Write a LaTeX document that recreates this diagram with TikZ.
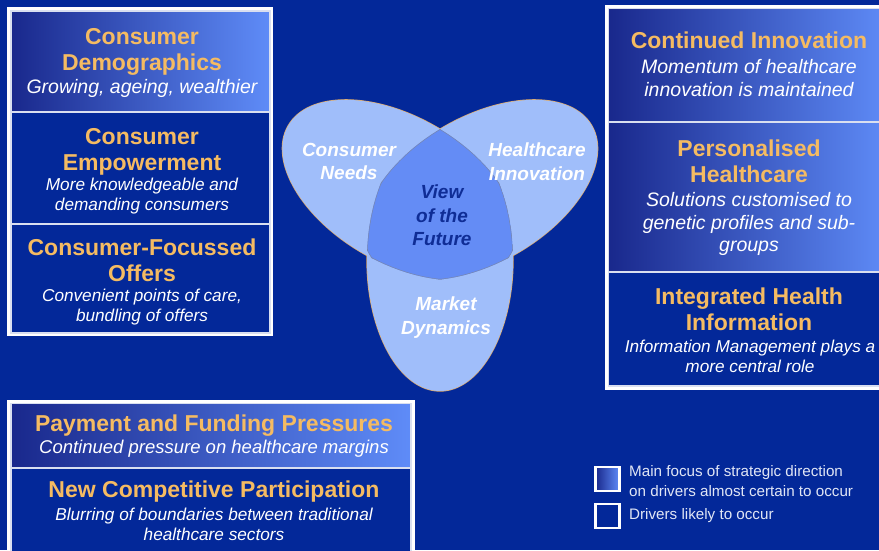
\documentclass[tikz,border=0pt]{standalone}
\usepackage{fontspec}
\setmainfont{Liberation Sans}
\definecolor{bg}{RGB}{3,40,153}
\definecolor{tOrange}{RGB}{245,187,98}
\definecolor{gL}{RGB}{25,40,140}
\definecolor{gR}{RGB}{95,140,248}
\definecolor{ellFill}{RGB}{160,190,250}
\definecolor{ellCore}{RGB}{100,140,245}
\definecolor{ellLine}{RGB}{225,170,100}
\definecolor{coreLine}{RGB}{120,135,175}
\definecolor{coreText}{RGB}{15,45,150}
\definecolor{legText}{RGB}{225,230,245}
\begin{document}
\begin{tikzpicture}[x=1pt,y=-1pt,
  ttl/.style={font=\fontsize{23}{25.8}\selectfont\bfseries, text=tOrange, align=center, inner sep=0pt, anchor=north},
  subL/.style={font=\fontsize{19.5}{22.8}\selectfont\itshape, text=white, align=center, inner sep=0pt, anchor=north},
  subM/.style={font=\fontsize{18.5}{22}\selectfont\itshape, text=white, align=center, inner sep=0pt, anchor=north},
  subS/.style={font=\fontsize{17.2}{20.3}\selectfont\itshape, text=white, align=center, inner sep=0pt, anchor=north},
  frame/.style={draw=white, line width=3pt, inner sep=0pt, rectangle},
  cell/.style={draw=white!85!bg, line width=1.2pt, fill=bg, inner sep=0pt, rectangle},
  gradcell/.style={draw=white!85!bg, line width=1.2pt, inner sep=0pt, rectangle, left color=gL, right color=gR},
  venn/.style={font=\fontsize{19}{23.5}\selectfont\bfseries\itshape, text=white, align=center, inner sep=0pt, anchor=north},
  legbox/.style={draw=white, line width=2.2pt, minimum width=24pt, minimum height=24pt, inner sep=0pt, rectangle},
  legtxt/.style={font=\fontsize{15.2}{20.5}\selectfont, text=legText, align=left, inner sep=0pt, anchor=west},
  petal/.style={fill=ellFill, draw=ellLine, line width=1.3pt},
  coreedge/.style={draw=coreLine, line width=1pt}
]
\clip (0,0) rectangle (879,550);
\fill[bg] (0,0) rectangle (879,550);

% ---------- left column ----------
\node[frame, minimum width=262.8pt, minimum height=325.8pt] (lframe) at (140.1,171.6) {};
\node[gradcell, minimum width=259pt, minimum height=101pt] (lb1) at (140.5,61.5) {};
\node[cell, minimum width=259pt, minimum height=112pt] (lb2) at (140.5,168) {};
\node[cell, minimum width=259pt, minimum height=109pt] (lb3) at (140.5,278.5) {};
\node[ttl] (lt1) at (142,28) {Consumer\\Demographics};
\node[subL] (ls1) at (142,79) {Growing, ageing, wealthier};
\node[ttl] (lt2) at (142,128) {Consumer\\Empowerment};
\node[subS] (ls2) at (142,178) {More knowledgeable and\\demanding consumers};
\node[ttl] (lt3) at (142,239) {Consumer-Focussed\\Offers};
\node[subS] (ls3) at (142,289) {Convenient points of care,\\bundling of offers};

% ---------- right column ----------
\node[frame, minimum width=286pt, minimum height=382pt] (rframe) at (749,197.5) {};
\node[gradcell, minimum width=281.5pt, minimum height=113.5pt] (rb1) at (749.25,65.25) {};
\node[gradcell, minimum width=281.5pt, minimum height=150pt] (rb2) at (749.25,197) {};
\node[cell, minimum width=281.5pt, minimum height=114pt] (rb3) at (749.25,329) {};
\node[ttl] (rt1) at (749,32) {Continued Innovation};
\node[subL] (rs1) at (749,59) {Momentum of healthcare\\innovation is maintained};
\node[ttl] (rt2) at (749,140) {Personalised\\Healthcare};
\node[subL] (rs2) at (749,192) {Solutions customised to\\genetic profiles and sub-\\groups};
\node[ttl] (rt3) at (749,288) {Integrated Health\\Information};
\node[subS] (rs3) at (750,340) {Information Management plays a\\more central role};

% ---------- bottom left ----------
\node[frame, minimum width=405pt, minimum height=169pt] (bframe) at (210.5,485.5) {};
\node[gradcell, minimum width=400pt, minimum height=64.5pt] (bb1) at (211,435.75) {};
\node[cell, minimum width=400pt, minimum height=100pt] (bb2) at (211,518) {};
\node[ttl] (bt1) at (214,415) {Payment and Funding Pressures};
\node[subM] (bs1) at (214,440) {Continued pressure on healthcare margins};
\node[ttl] (bt2) at (214,481) {New Competitive Participation};
\node[subS] (bs2) at (214,508) {Blurring of boundaries between traditional\\healthcare sectors};

% ---------- Venn ----------
\coordinate (cL) at (399.5,190);
\coordinate (cR) at (480.5,190);
\coordinate (cB) at (440,260);
\filldraw[petal, rotate around={-30:(cL)}] (cL) ellipse [x radius=128.5pt, y radius=73pt];
\filldraw[petal, rotate around={30:(cR)}] (cR) ellipse [x radius=128.5pt, y radius=73pt];
\filldraw[petal] (cB) ellipse [x radius=73pt, y radius=131pt];
\fill[ellFill, rotate around={-30:(cL)}] (cL) ellipse [x radius=128.5pt, y radius=73pt];
\fill[ellFill, rotate around={30:(cR)}] (cR) ellipse [x radius=128.5pt, y radius=73pt];
\fill[ellFill] (cB) ellipse [x radius=73pt, y radius=131pt];
\begin{scope}
  \path[clip, rotate around={-30:(cL)}] (cL) ellipse [x radius=128.5pt, y radius=73pt];
  \path[clip, rotate around={30:(cR)}] (cR) ellipse [x radius=128.5pt, y radius=73pt];
  \path[clip] (cB) ellipse [x radius=73pt, y radius=131pt];
  \fill[ellCore] (300,80) rectangle (600,320);
  \draw[coreedge, rotate around={-30:(cL)}] (cL) ellipse [x radius=128.5pt, y radius=73pt];
  \draw[coreedge, rotate around={30:(cR)}] (cR) ellipse [x radius=128.5pt, y radius=73pt];
  \draw[coreedge] (cB) ellipse [x radius=73pt, y radius=131pt];
\end{scope}
\node[venn] (vneeds) at (349,143) {Consumer\\Needs};
\node[venn] (vinnov) at (537,143) {Healthcare\\Innovation};
\node[venn, text=coreText] (vfuture) at (442,185) {View\\of the\\Future};
\node[venn] (vmarket) at (446,297) {Market\\Dynamics};

% ---------- legend ----------
\node[legbox, left color=gL, right color=gR] (leg1) at (607.5,479) {};
\node[legbox, fill=bg] (leg2) at (607.5,516) {};
\node[legtxt] (legt1) at (629,481) {Main focus of strategic direction\\on drivers almost certain to occur};
\node[legtxt] (legt2) at (629,516) {Drivers likely to occur};
\end{tikzpicture}
\end{document}
